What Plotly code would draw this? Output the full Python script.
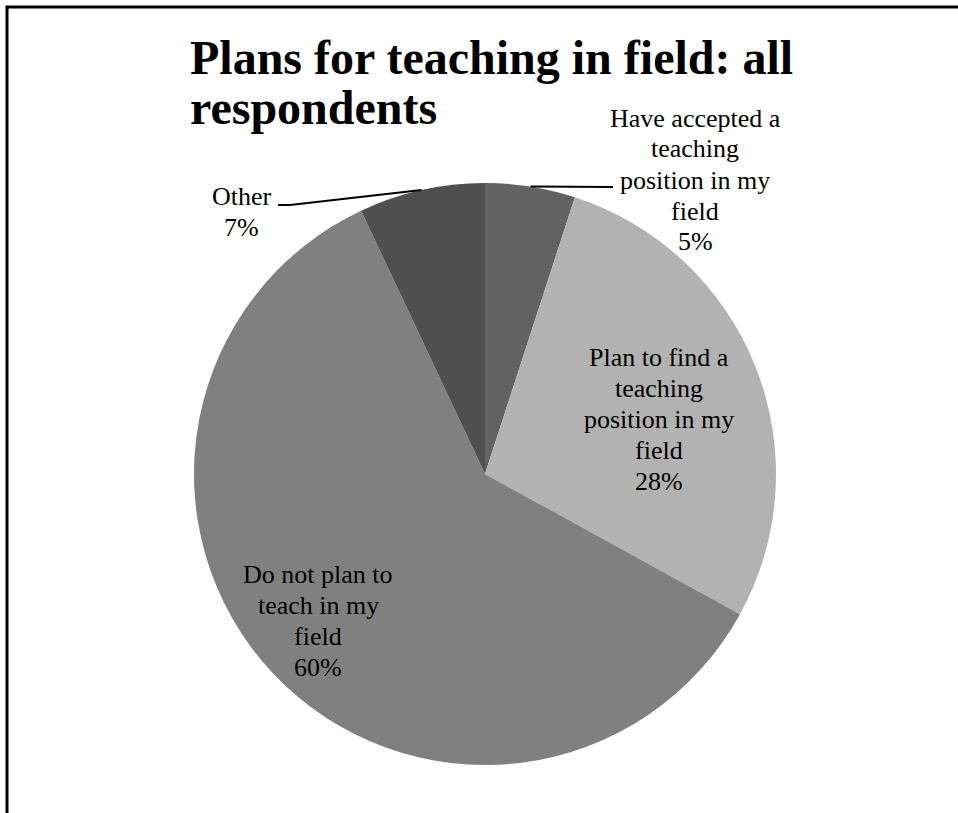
import plotly.graph_objects as go
import numpy as np

# slice data, clockwise from 12 o'clock
labels = ["Have accepted a teaching position in my field",
          "Plan to find a teaching position in my field",
          "Do not plan to teach in my field",
          "Other"]
label_lines = [["Have accepted a", "teaching", "position in my", "field"],
               ["Plan to find a", "teaching", "position in my", "field"],
               ["Do not plan to", "teach in my", "field"],
               ["Other"]]
shares = [5, 28, 60, 7]
colors = ["#626262", "#b2b2b2", "#808080", "#505050"]

title_lines = ["Plans for teaching in field: all", "respondents"]

W, H = 958, 813
cx, cy, r = 485, 474, 291          # pie centre / radius in px


def px(x):
    return x / W


def py(y):
    return 1 - y / H


fig = go.Figure(go.Pie(
    labels=labels, values=shares, sort=False,
    direction="clockwise", rotation=0,
    marker=dict(colors=colors, line=dict(width=0)),
    textinfo="none", hoverinfo="label+percent", showlegend=False,
    domain=dict(x=[px(cx - r), px(cx + r)], y=[py(cy + r), py(cy - r)]),
))

# label block centres (px) and line spacing
label_pos = [(695, 180), (659, 419), (318, 621), (242, 212)]
line_gap = 31
font = dict(family="Liberation Serif, Times New Roman, serif", size=26, color="black")

for lines, v, (lx, ly) in zip(label_lines, shares, label_pos):
    rows = lines + [f"{v}%"]
    n = len(rows)
    for k, t in enumerate(rows):
        yy = ly + (k - (n - 1) / 2) * line_gap
        fig.add_annotation(x=px(lx), y=py(yy), xref="paper", yref="paper",
                           text=t, showarrow=False, font=font,
                           xanchor="center", yanchor="middle")

# leader lines: from the mid-angle of the small slices out to their labels
cum = np.cumsum([0] + shares[:-1])
mid = 2 * np.pi * (cum + np.array(shares) / 2) / 100
ex = cx + r * np.sin(mid)
ey = cy - r * np.cos(mid)

fig.add_shape(type="line", xref="paper", yref="paper",
              x0=px(ex[0]), y0=py(ey[0]), x1=px(613), y1=py(187),
              line=dict(color="black", width=2))
fig.add_shape(type="path", xref="paper", yref="paper",
              path=f"M {px(278)},{py(205)} L {px(290)},{py(205)} L {px(ex[3])},{py(ey[3])}",
              line=dict(color="black", width=2))

# title, two lines
title_font = dict(family="Liberation Serif, Times New Roman, serif", size=48, color="black")
for k, t in enumerate(title_lines):
    fig.add_annotation(x=px(188), y=py(86 + k * 50), xref="paper", yref="paper",
                       text=f"<b>{t}</b>", showarrow=False, font=title_font,
                       xanchor="left", yanchor="bottom")

# frame around the chart (cut at right and bottom)
fig.add_shape(type="rect", xref="paper", yref="paper",
              x0=px(7), y0=-0.1, x1=1.1, y1=py(7),
              line=dict(color="black", width=3))

fig.update_layout(
    width=W, height=H,
    margin=dict(l=0, r=0, t=0, b=0),
    paper_bgcolor="white", plot_bgcolor="white",
)

fig.write_html("out.html", config={"displayModeBar": False},
               post_script="document.body.style.margin='0';")
